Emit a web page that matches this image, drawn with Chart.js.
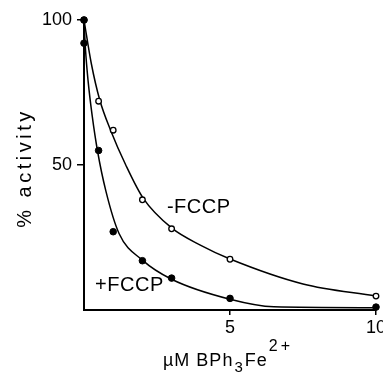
<!DOCTYPE html>
<html>
<head>
<meta charset="utf-8">
<script src="https://cdn.jsdelivr.net/npm/chart.js@4.4.1/dist/chart.umd.min.js"></script>
<style>
  html, body { margin: 0; padding: 0; background: #fff; overflow: hidden; }
  #wrap { width: 400px; height: 373px; }
</style>
</head>
<body>
<div id="wrap"><canvas id="activityChart" width="400" height="373"></canvas></div>
<script>
// measured points: BPh3Fe2+ concentration (uM) vs % activity
const concMinus = [0, 0.5, 1, 2, 3, 5, 10];
const activityMinus = [100, 72, 62, 38, 28, 17.5, 4.8];
const concPlus = [0, 0, 0.5, 1, 2, 3, 5, 10];
const activityPlus = [100, 92, 55, 27, 17, 11, 4, 1];

// fitted curves drawn through the points
const curveMinusX = [0, 0.25, 0.54, 0.91, 1.43, 2.03, 3, 4, 5, 7.5, 10];
const curveMinusY = [100, 85, 72.4, 62, 50, 38.5, 28.3, 22.3, 17.6, 9, 4.8];
const curvePlusX = [0, 0.05, 0.14, 0.28, 0.46, 0.75, 1.2, 2, 3, 5, 6.5, 10];
const curvePlusY = [100, 90, 79, 67, 55, 41, 26.4, 17.2, 10.6, 3.7, 1.1, 0.8];

const xTicks = [5, 10];
const yTicks = [50, 100];

const FONT = '"Liberation Sans", Arial, Helvetica, sans-serif';
Chart.defaults.font.family = FONT;
Chart.defaults.color = '#000';

function toPoints(xs, ys) {
    return xs.map((x, i) => ({ x: x, y: ys[i] }));
}

// axis titles and curve labels, drawn by hand for the spacing and sub/superscripts
const textPlugin = {
    id: 'textPlugin',
    afterDraw(chart) {
        const ctx = chart.ctx;
        const xs = chart.scales.x;
        const ys = chart.scales.y;
        ctx.save();
        ctx.fillStyle = '#000';
        ctx.textBaseline = 'alphabetic';

        // y title
        ctx.save();
        ctx.translate(31, 168);
        ctx.rotate(-Math.PI / 2);
        ctx.font = '20px ' + FONT;
        ctx.letterSpacing = '3.5px';
        ctx.textAlign = 'center';
        ctx.fillText('% activity', 0, 0);
        ctx.restore();

        // x title: uM BPh3Fe2+
        ctx.textAlign = 'left';
        let x = 163;
        const base = 366;
        const parts = [
            ['\u00b5M BPh', 18, 0, 1],
            ['3', 15, 6, 1],
            ['Fe', 18, 0, 1],
            ['2+', 16, -15, 3]
        ];
        parts.forEach(p => {
            ctx.font = p[1] + 'px ' + FONT;
            ctx.letterSpacing = p[3] + 'px';
            ctx.fillText(p[0], x, base + p[2]);
            x += ctx.measureText(p[0]).width + 1;
        });

        // curve labels
        ctx.letterSpacing = '0.5px';
        ctx.font = '20px ' + FONT;
        ctx.fillText('-FCCP', xs.getPixelForValue(2.84), ys.getPixelForValue(33.4));
        ctx.fillText('+FCCP', xs.getPixelForValue(0.38), ys.getPixelForValue(6.6));
        ctx.restore();
    }
};

const context = document.getElementById('activityChart').getContext('2d');

const pointStyle = { showLine: false, pointBorderColor: '#000', clip: false };
const curveStyle = {
    showLine: true,
    pointRadius: 0,
    borderColor: '#000',
    borderWidth: 1.5,
    cubicInterpolationMode: 'monotone',
    clip: false
};

const activityChart = new Chart(context, {
    type: 'scatter',
    data: {
        datasets: [
            Object.assign({
                label: '+FCCP',
                data: toPoints(concPlus, activityPlus),
                pointRadius: 3.3,
                pointBackgroundColor: '#000',
                pointBorderWidth: 1
            }, pointStyle),
            Object.assign({
                label: '-FCCP',
                data: toPoints(concMinus, activityMinus),
                pointRadius: 2.8,
                pointBackgroundColor: '#fff',
                pointBorderWidth: 1.3
            }, pointStyle),
            Object.assign({ label: '+FCCP fit', data: toPoints(curvePlusX, curvePlusY) }, curveStyle),
            Object.assign({ label: '-FCCP fit', data: toPoints(curveMinusX, curveMinusY) }, curveStyle)
        ]
    },
    options: {
        responsive: false,
        animation: false,
        devicePixelRatio: 1,
        layout: { padding: { top: 20, right: 24, left: 0, bottom: 0 } },
        plugins: {
            legend: { display: false },
            tooltip: { enabled: false }
        },
        scales: {
            x: {
                type: 'linear',
                min: 0,
                max: 10,
                afterBuildTicks: s => { s.ticks = xTicks.map(v => ({ value: v })); },
                afterFit: s => { s.height = 63; },
                grid: { drawOnChartArea: false, drawTicks: true, tickLength: 5, color: '#000', lineWidth: 1.5 },
                border: { display: true, color: '#000', width: 2 },
                ticks: { font: { size: 18 }, color: '#000', padding: 2, maxRotation: 0, autoSkip: false }
            },
            y: {
                type: 'linear',
                min: 0,
                max: 100,
                afterBuildTicks: s => { s.ticks = yTicks.map(v => ({ value: v })); },
                afterFit: s => { s.width = 84; },
                grid: { drawOnChartArea: false, drawTicks: true, tickLength: 7, color: '#000', lineWidth: 1.5 },
                border: { display: true, color: '#000', width: 2 },
                ticks: { font: { size: 18 }, color: '#000', padding: 5 }
            }
        }
    },
    plugins: [textPlugin]
});
</script>
</body>
</html>
